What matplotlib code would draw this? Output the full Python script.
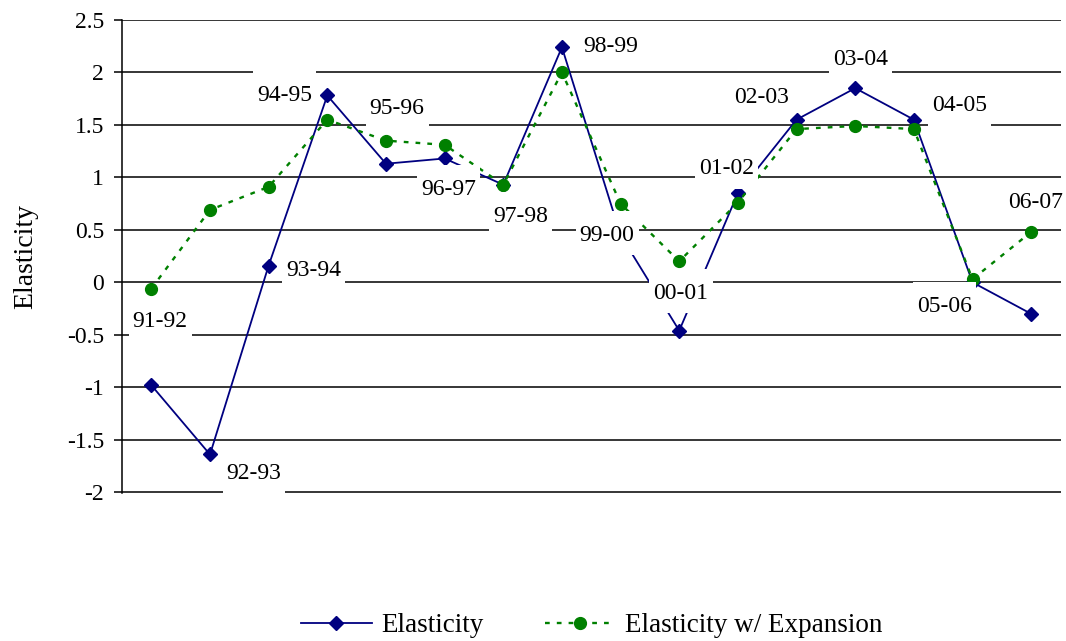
import matplotlib
matplotlib.use("Agg")
import matplotlib.pyplot as plt
from matplotlib.path import Path

# ---------------- data ----------------
periods = ['91-92', '92-93', '93-94', '94-95', '95-96', '96-97', '97-98', '98-99',
           '99-00', '00-01', '01-02', '02-03', '03-04', '04-05', '05-06', '06-07']
elasticity = [-0.98, -1.64, 0.16, 1.78, 1.13, 1.18, 0.93, 2.24,
              0.45, -0.46, 0.85, 1.55, 1.85, 1.55, 0.0, -0.30]
elasticity_exp = [-0.06, 0.69, 0.91, 1.55, 1.35, 1.31, 0.93, 2.00,
                  0.75, 0.20, 0.76, 1.46, 1.49, 1.46, 0.03, 0.48]
yticks = [-2, -1.5, -1, -0.5, 0, 0.5, 1, 1.5, 2, 2.5]
ytick_labels = ['-2', '-1.5', '-1', '-0.5', '0', '0.5', '1', '1.5', '2', '2.5']

# label placement (category index, value) for the period data labels
label_x = [0.15, 1.75, 2.77, 2.27, 4.19, 5.07, 6.30, 7.83,
           7.77, 9.03, 9.81, 10.40, 12.09, 13.78, 13.53, 15.07]
label_y = [-0.37, -1.82, 0.11, 1.78, 1.66, 0.88, 0.625, 2.245,
           0.45, -0.105, 1.08, 1.76, 2.12, 1.68, -0.23, 0.76]

SERIF = ['Liberation Serif', 'DejaVu Serif']
plt.rcParams['font.family'] = SERIF

fig = plt.figure(figsize=(10.66, 6.41), dpi=100)
ax = fig.add_axes([122 / 1066, 1 - 492.7 / 641, 938.5 / 1066, 473.2 / 641])

x = list(range(len(periods)))
ax.plot(x, elasticity, color='#000080', lw=1.3, marker='D', ms=7.5,
        mfc='#000080', mec='#000080', label='Elasticity', zorder=2)
ax.plot(x, elasticity_exp, color='#008000', lw=1.7, ls=(0, (2, 3)),
        marker='o', ms=8.5, mfc='#008000', mec='#008000',
        label='Elasticity w/ Expansion', zorder=2.1)


def label_box(x0, y0, width, height, mutation_size):
    px = 0.17 * mutation_size
    half = 0.94 * mutation_size
    cy = y0 + height / 2 + 0.1 * mutation_size
    verts = [(x0 - px, cy - half), (x0 + width + px, cy - half),
             (x0 + width + px, cy + half), (x0 - px, cy + half),
             (x0 - px, cy - half)]
    codes = [Path.MOVETO, Path.LINETO, Path.LINETO, Path.LINETO, Path.CLOSEPOLY]
    return Path(verts, codes)


for lx, ly, t in zip(label_x, label_y, periods):
    ax.text(lx, ly, t, ha='center', va='center', fontsize=17, color='black',
            zorder=5, bbox=dict(boxstyle=label_box, fc='white', ec='none'))

ax.set_xlim(-0.5, 15.5)
ax.set_ylim(-2.004, 2.504)
ax.set_yticks(yticks)
ax.set_yticklabels(ytick_labels)
ax.set_xticks([])
ax.grid(axis='y', color='black', lw=1.1)
ax.set_axisbelow(True)
for s in ['top', 'right', 'bottom']:
    ax.spines[s].set_visible(False)
ax.spines['left'].set_linewidth(1.1)
ax.tick_params(axis='y', direction='out', length=5.8, width=1.1, pad=7.2,
               labelsize=17, colors='black')

ax.set_ylabel('Elasticity', fontsize=20)
ax.yaxis.set_label_coords(-0.089, 0.5)

fig.legend(loc='center', bbox_to_anchor=(592 / 1066, 1 - 626 / 641), ncol=2,
           frameon=False, fontsize=19.5, handlelength=2.6, handletextpad=0.37,
           columnspacing=2.25, borderpad=0.2)

fig.savefig('out.png', dpi=100)
